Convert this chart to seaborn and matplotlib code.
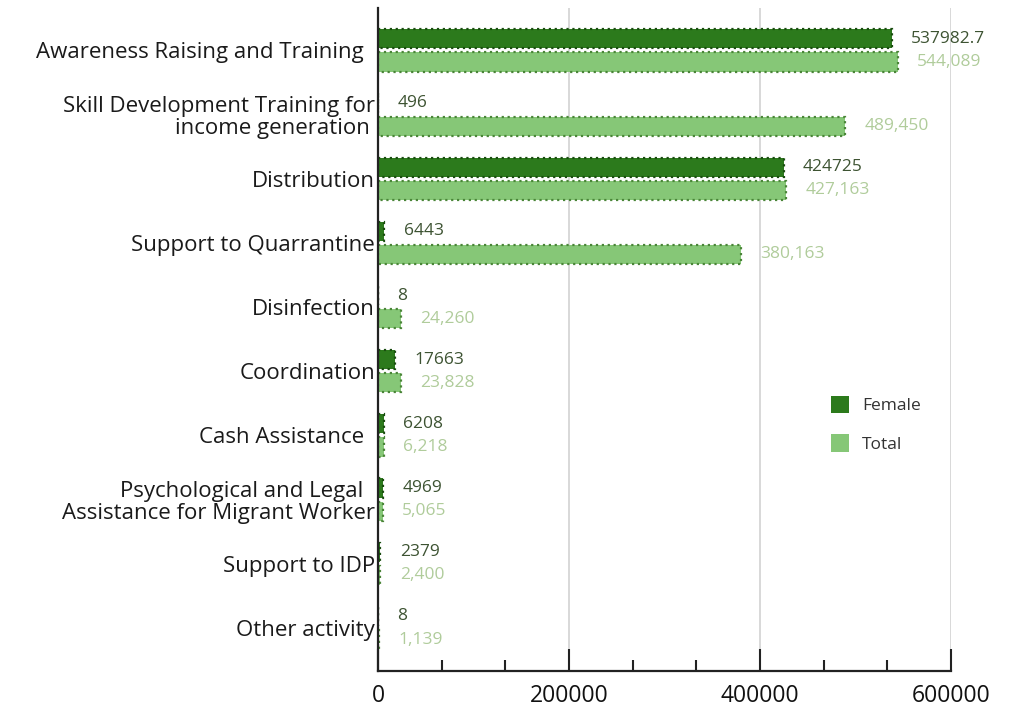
import matplotlib
matplotlib.use("Agg")
import matplotlib.pyplot as plt
import seaborn as sns
import pandas as pd
from matplotlib.patches import Patch
from matplotlib.ticker import FixedLocator, MultipleLocator

# Beneficiaries per activity
activities = [
    "Awareness Raising and Training  ",
    "Skill Development Training for\nincome generation ",
    "Distribution",
    "Support to Quarrantine",
    "Disinfection",
    "Coordination",
    "Cash Assistance  ",
    "Psychological and Legal  \nAssistance for Migrant Worker",
    "Support to IDP",
    "Other activity",
]
female = [537982.7, 496, 424725, 6443, 8, 17663, 6208, 4969, 2379, 8]
total = [544089, 489450, 427163, 380163, 24260, 23828, 6218, 5065, 2400, 1139]
series = ["Female", "Total"]
x_ticks = [0, 200000, 400000, 600000]

fill_colors = {"Female": "#2c7a1c", "Total": "#86c777"}
edge_colors = {"Female": "#1a4d10", "Total": "#4a8538"}
label_colors = {"Female": "#3d5332", "Total": "#b0cc9b"}

df = pd.DataFrame({
    "activity": activities * 2,
    "value": female + total,
    "series": ["Female"] * len(activities) + ["Total"] * len(activities),
})

sns.set_style("white")
plt.rcParams["font.family"] = ["Open Sans", "DejaVu Sans"]

fig = plt.figure(figsize=(10.10, 7.13), dpi=100)
ax = fig.add_axes([378 / 1010, 1 - 671 / 713, (951 - 378) / 1010, (671 - 8) / 713])

sns.barplot(
    data=df, y="activity", x="value", hue="series",
    order=activities, hue_order=series, palette=fill_colors, saturation=1,
    orient="h", width=0.72, gap=0.17, linestyle=":", linewidth=1.6,
    legend=False, ax=ax,
)

for name, cont in zip(series, ax.containers):
    for bar in cont:
        bar.set_edgecolor(edge_colors[name])
    if name == "Female":
        texts = [str(v) for v in female]
    else:
        texts = [f"{v:,}" for v in total]
    ax.bar_label(cont, labels=texts, padding=14, fontsize=12.5,
                 color=label_colors[name])

ax.set_xlim(0, 600000)
ax.set_ylim(9.67, -0.66)
ax.set_xlabel("")
ax.set_ylabel("")

ax.xaxis.set_major_locator(FixedLocator(x_ticks))
ax.xaxis.set_minor_locator(MultipleLocator(200000 / 3))
ax.set_xticklabels([str(t) for t in x_ticks])
ax.tick_params(axis="x", which="major", bottom=True, direction="in",
               length=16, width=1.5, color="#222222", labelsize=16.5,
               pad=9, labelcolor="#111111")
ax.tick_params(axis="x", which="minor", bottom=True, direction="in",
               length=8, width=1.5, color="#222222")
ax.tick_params(axis="y", left=False, length=0, pad=2, labelsize=16,
               labelcolor="#1a1a1a")
for lbl in ax.get_yticklabels():
    lbl.set_linespacing(1.05)

ax.xaxis.grid(True, which="major", color="#d6d6d6", linewidth=1.3)
ax.set_axisbelow(True)

for side in ("top", "right"):
    ax.spines[side].set_visible(False)
for side in ("left", "bottom"):
    ax.spines[side].set_color("#222222")
    ax.spines[side].set_linewidth(1.6)

handles = [Patch(facecolor=fill_colors[s], edgecolor="none") for s in series]
fig.legend(handles, series, loc="upper left",
           bbox_to_anchor=(822 / 1010, 1 - 387 / 713), frameon=False,
           fontsize=12.5, handlelength=1.04, handleheight=1.2,
           handletextpad=0.75, labelspacing=1.15, borderpad=0,
           labelcolor="#333333")

fig.savefig("out.png", dpi=100, facecolor="white")
